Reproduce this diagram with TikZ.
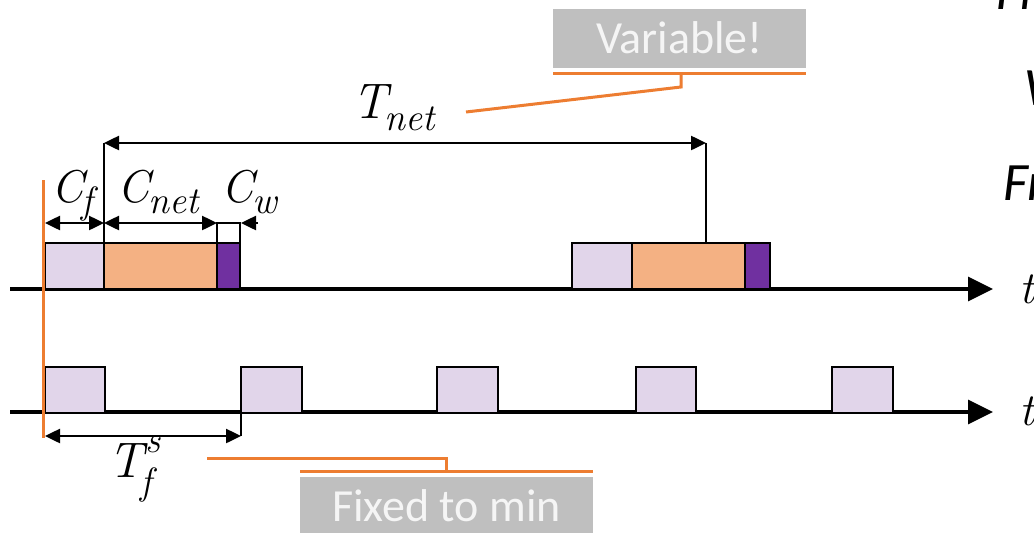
\documentclass[tikz,border=0pt]{standalone}
\usepackage{fontspec}
\newfontfamily\calib{Carlito}
\usetikzlibrary{arrows.meta}
\definecolor{lav}{RGB}{225,213,234}
\definecolor{org}{RGB}{244,177,131}
\definecolor{pur}{RGB}{112,48,160}
\definecolor{acc}{RGB}{237,125,49}
\definecolor{gbox}{RGB}{191,191,191}
\definecolor{gtext}{RGB}{245,245,245}
\newcommand{\subit}[1]{\raisebox{-0.24em}{\fontsize{38}{38}\selectfont\itshape #1}}
\newcommand{\subdeep}[1]{\raisebox{-0.34em}{\fontsize{38}{38}\selectfont\itshape #1}}
\newcommand{\supit}[1]{\raisebox{0.5em}{\fontsize{38}{38}\selectfont\itshape #1}}
\tikzset{
  blk/.style={draw=black, line width=2.4pt, inner sep=0pt, outer sep=0pt, anchor=north west, minimum height=46pt},
  lavbox/.style={blk, fill=lav},
  orgbox/.style={blk, fill=org},
  purbox/.style={blk, fill=pur},
  axis/.style={line width=3.2pt, -{Triangle[length=25pt,width=24pt]}},
  dim/.style={line width=2.5pt, {Triangle[length=15pt,width=14pt]}-{Triangle[length=15pt,width=14pt]}},
  dimone/.style={line width=2.5pt, -{Triangle[length=15pt,width=14pt]}},
  thinl/.style={line width=1.1pt},
  accl/.style={draw=acc, line width=3pt},
  mlabC/.style={inner sep=0pt, anchor=base west, font=\itshape\fontsize{46}{50}\selectfont},
  mlabT/.style={inner sep=0pt, anchor=base west, font=\itshape\fontsize{50}{56}\selectfont},
  tag/.style={fill=gbox, text=gtext, inner sep=0pt, outer sep=0pt, anchor=north west, font=\calib\fontsize{46}{50}\selectfont, text height=29pt, text depth=0pt},
  edge/.style={inner sep=0pt, anchor=base west, font=\calib\itshape\fontsize{54}{60}\selectfont},
}
\begin{document}
\begin{tikzpicture}[x=1pt,y=-1pt]
\useasboundingbox (0,0) rectangle (1034,533);
\clip (0,0) rectangle (1034,533);
% axes
\coordinate (a1s) at (10,289);
\coordinate (a1e) at (993,289);
\coordinate (a2s) at (10,412);
\coordinate (a2e) at (993,412);
\draw[axis] (a1s) -- (a1e);
\draw[axis] (a2s) -- (a2e);
% top row
\node[lavbox, minimum width=59pt] (cf1) at (45,243) {};
\node[orgbox, minimum width=113pt] (cn1) at (104,243) {};
\node[purbox, minimum width=23pt] (cw1) at (217,243) {};
\node[lavbox, minimum width=60pt] (cf2) at (572,243) {};
\node[orgbox, minimum width=113pt] (cn2) at (632,243) {};
\node[purbox, minimum width=25pt] (cw2) at (745,243) {};
% bottom row
\node[lavbox, minimum width=60pt] (s1) at (45,367) {};
\node[lavbox, minimum width=61pt] (s2) at (241,367) {};
\node[lavbox, minimum width=61pt] (s3) at (437,367) {};
\node[lavbox, minimum width=60pt] (s4) at (636,367) {};
\node[lavbox, minimum width=61pt] (s5) at (832,367) {};
% axis labels
\node[mlabT, font=\itshape\fontsize{46}{50}\selectfont] (t1) at (1019,303) {t};
\node[mlabT, font=\itshape\fontsize{46}{50}\selectfont] (t2) at (1019,425) {t};
% cut-off texts at the right edge
\node[edge] (e1) at (996,9) {Fr};
\node[edge] (e2) at (1024,105) {W};
\node[edge] (e3) at (1003,200) {Fr};
% dimension arrows
\draw[dim] ([yshift=20pt]cf1.north west) -- ([yshift=20pt]cf1.north east);
\draw[dim] ([yshift=20pt]cn1.north west) -- ([yshift=20pt]cn1.north east);
\draw[thinl] (cw1.north west) -- ([yshift=20pt]cw1.north west) -- ([yshift=20pt]cw1.north east) -- (cw1.north east);
\coordinate (cwt) at (258,223);
\draw[dimone] (cwt) -- ([yshift=20pt,xshift=1pt]cw1.north east);
\node[mlabC] (lcf) at (51,202) {C\kern-2pt\subit{f}};
\node[mlabC] (lcn) at (117,202) {C\kern-1pt\subit{net}};
\node[mlabC] (lcw) at (221,202) {C\kern-1pt\subit{w}};
% T_net
\coordinate (tn) at (706,243);
\draw[thinl] (cn1.north west) -- ([yshift=100pt]cn1.north west);
\draw[thinl] (tn) -- ([yshift=100pt]tn);
\draw[dim] ([yshift=100pt]cn1.north west) -- ([yshift=100pt]tn);
\node[mlabT] (ltn) at (352,118) {T\kern-3pt\subit{net}};
% T_f^s
\draw[thinl] (s2.south west) -- ([yshift=-23pt]s2.south west);
\draw[dim] ([yshift=-23pt]s1.south west) -- ([yshift=-23pt]s2.south west);
\node[mlabT] (ltf) at (108,477) {T\kern2pt\rlap{\supit{s}}\kern-5pt\subdeep{f}};
% orange start line
\coordinate (o1) at (43,180);
\coordinate (o2) at (43,438);
\draw[accl] (o1) -- (o2);
% Variable! callout
\node[tag, minimum width=253pt, minimum height=59pt] (var) at (553,9) {Variable!};
\draw[accl] ([yshift=-5pt]var.south west) -- ([yshift=-5pt]var.south east);
\coordinate (vl) at (466,112);
\coordinate (vm) at (681,87);
\draw[accl] (vl) -- (vm) -- ([yshift=-5pt]var.south -| vm);
% Fixed to min callout
\node[tag, minimum width=293pt, minimum height=60pt] (fix) at (300,477) {Fixed to min};
\draw[accl] ([yshift=6pt]fix.north west) -- ([yshift=6pt]fix.north east);
\coordinate (fl) at (207,458);
\coordinate (fm) at (446,458);
\draw[accl] (fl) -- (fm) -- ([yshift=6pt]fix.north -| fm);
\end{tikzpicture}
\end{document}
